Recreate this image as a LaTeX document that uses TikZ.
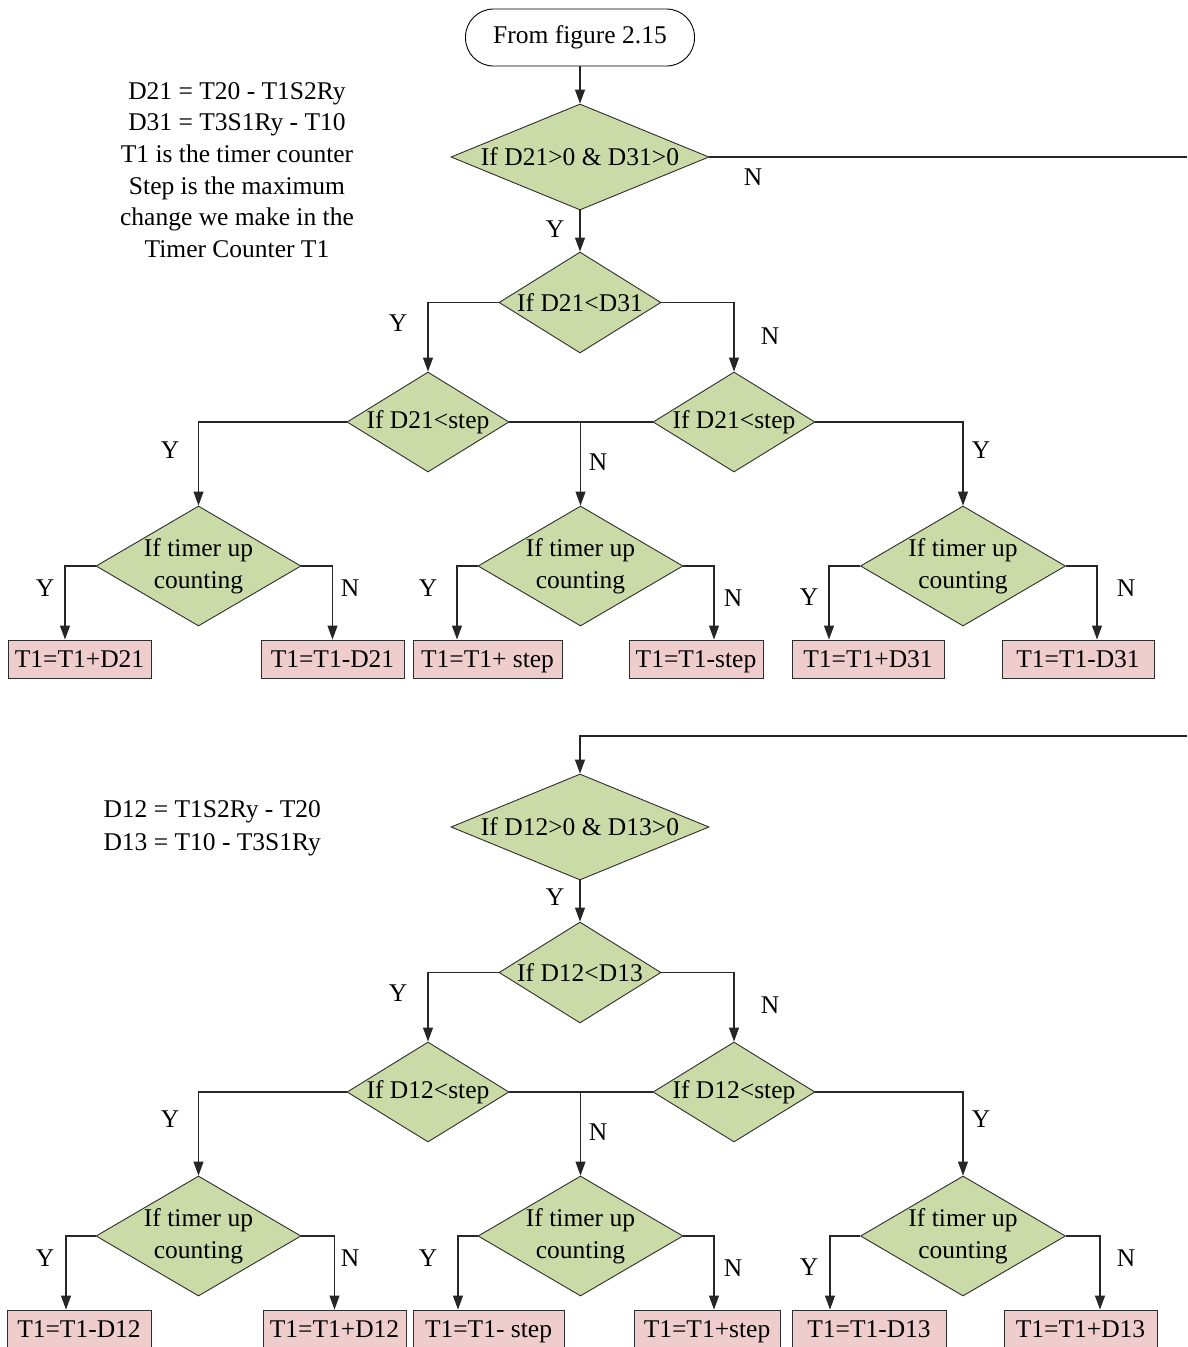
\documentclass[tikz,border=0pt]{standalone}
\usepackage{fontspec}
\setmainfont{Liberation Serif}
\usetikzlibrary{shapes.geometric,arrows.meta}

\definecolor{decfill}{RGB}{203,219,168}
\definecolor{actfill}{RGB}{239,205,205}
\definecolor{edgecol}{RGB}{45,45,45}

\tikzset{
  every node/.style={font=\fontsize{25.5}{31.6}\selectfont},
  dec/.style={diamond, draw=edgecol, fill=decfill, line width=0.9pt, inner sep=0pt},
  act/.style={rectangle, draw=edgecol, fill=actfill, line width=0.9pt,
              minimum height=38pt, inner sep=0pt, text height=16.9pt, text depth=0pt},
  term/.style={rectangle, rounded corners=28pt, draw=black, line width=0.9pt,
               minimum width=229pt, minimum height=57pt, inner sep=0pt},
  flow/.style={draw=black!85, line width=1.1pt, -{Triangle[length=14pt,width=10pt]}},
  link/.style={draw=black!85, line width=1.1pt},
  yn/.style={inner sep=0pt},
}

\begin{document}
\begin{tikzpicture}[x=1pt,y=-1pt]
\useasboundingbox (0,0) rectangle (1187,1347);

% ---------------- upper chart ----------------
\node[term] (start) at (580,37.5) {From figure 2.15};

\node[align=center] (notesA) at (237,170)
  {D21 = T20 - T1S2Ry\\D31 = T3S1Ry - T10\\T1 is the timer counter\\Step is the maximum\\change we make in the\\Timer Counter T1};

\node[dec, minimum width=258pt, minimum height=106pt,
      label={center:If D21>0 \& D31>0}] (a1) at (580,157) {};
\node[dec, minimum width=162pt, minimum height=101pt,
      label={center:If D21<D31}] (a2) at (580,302.5) {};
\node[dec, minimum width=162pt, minimum height=100pt,
      label={center:If D21<step}] (a3L) at (428,422) {};
\node[dec, minimum width=162pt, minimum height=100pt,
      label={center:If D21<step}] (a3R) at (734,422) {};
\node[dec, minimum width=205pt, minimum height=120pt,
      label={[align=center]center:If timer up\\counting}] (a4L) at (198.5,566) {};
\node[dec, minimum width=205pt, minimum height=120pt,
      label={[align=center]center:If timer up\\counting}] (a4M) at (580.5,566) {};
\node[dec, minimum width=205pt, minimum height=120pt,
      label={[align=center]center:If timer up\\counting}] (a4R) at (963,566) {};

\node[act, minimum width=143pt] (ab1) at (79.5,659) {T1=T1+D21};
\node[act, minimum width=143pt] (ab2) at (332.5,659) {T1=T1-D21};
\node[act, minimum width=149pt] (ab3) at (487.5,659) {T1=T1+ step};
\node[act, minimum width=134pt] (ab4) at (696,659) {T1=T1-step};
\node[act, minimum width=152pt] (ab5) at (868,659) {T1=T1+D31};
\node[act, minimum width=152pt] (ab6) at (1078,659) {T1=T1-D31};

\coordinate (aexit) at (1187,157);

\draw[flow] (start.south) -- (a1.north);
\draw[link] (a1.east) -- (aexit);
\draw[flow] (a1.south) -- (a2.north);
\draw[flow] (a2.west) -| (a3L.north);
\draw[flow] (a2.east) -| (a3R.north);
\draw[flow] (a3L.west) -| (a4L.north);
\draw[flow] (a3R.east) -| (a4R.north);
\draw[link] (a3L.east) -- (a3R.west);
\draw[flow] (a3L.east -| a4M.north) -- (a4M.north);
\draw[flow] (a4L.west) -| ([xshift=-14.5pt]ab1.north);
\draw[flow] (a4L.east) -| (ab2.north);
\draw[flow] (a4M.west) -| ([xshift=-30.5pt]ab3.north);
\draw[flow] (a4M.east) -| ([xshift=18pt]ab4.north);
\draw[flow] (a4R.west) -| ([xshift=-39pt]ab5.north);
\draw[flow] (a4R.east) -| ([xshift=19pt]ab6.north);

\node[yn] (an1) at (753,177) {N};
\node[yn] (ay1) at (555,229) {Y};
\node[yn] (ay2) at (398,323) {Y};
\node[yn] (an2) at (770,336) {N};
\node[yn] (ay3) at (170,450) {Y};
\node[yn] (an3) at (598,462) {N};
\node[yn] (ay4) at (981,450) {Y};
\node[yn] (ay5) at (45,588) {Y};
\node[yn] (an5) at (350,588) {N};
\node[yn] (ay6) at (428,588) {Y};
\node[yn] (an6) at (733,598) {N};
\node[yn] (ay7) at (809,597) {Y};
\node[yn] (an7) at (1126,588) {N};

% ---------------- lower chart ----------------
\node[align=left, anchor=west, font=\fontsize{25.5}{33}\selectfont] (notesB) at (100,828)
  {D12 = T1S2Ry - T20\\D13 = T10 - T3S1Ry};

\node[dec, minimum width=258pt, minimum height=106pt,
      label={center:If D12>0 \& D13>0}] (b1) at (580,827) {};
\node[dec, minimum width=162pt, minimum height=101pt,
      label={center:If D12<D13}] (b2) at (580,972.5) {};
\node[dec, minimum width=162pt, minimum height=100pt,
      label={center:If D12<step}] (b3L) at (428,1092) {};
\node[dec, minimum width=162pt, minimum height=100pt,
      label={center:If D12<step}] (b3R) at (734,1092) {};
\node[dec, minimum width=205pt, minimum height=120pt,
      label={[align=center]center:If timer up\\counting}] (b4L) at (198.5,1236) {};
\node[dec, minimum width=205pt, minimum height=120pt,
      label={[align=center]center:If timer up\\counting}] (b4M) at (580.5,1236) {};
\node[dec, minimum width=205pt, minimum height=120pt,
      label={[align=center]center:If timer up\\counting}] (b4R) at (963,1236) {};

\node[act, minimum width=144pt] (bb1) at (79,1329) {T1=T1-D12};
\node[act, minimum width=143pt] (bb2) at (334.5,1329) {T1=T1+D12};
\node[act, minimum width=151pt] (bb3) at (488.5,1329) {T1=T1- step};
\node[act, minimum width=146pt] (bb4) at (707,1329) {T1=T1+step};
\node[act, minimum width=154pt] (bb5) at (869,1329) {T1=T1-D13};
\node[act, minimum width=153pt] (bb6) at (1080.5,1329) {T1=T1+D13};

\coordinate (bentry) at (1187,736);

\draw[flow] (bentry) -| (b1.north);
\draw[flow] (b1.south) -- (b2.north);
\draw[flow] (b2.west) -| (b3L.north);
\draw[flow] (b2.east) -| (b3R.north);
\draw[flow] (b3L.west) -| (b4L.north);
\draw[flow] (b3R.east) -| (b4R.north);
\draw[link] (b3L.east) -- (b3R.west);
\draw[flow] (b3L.east -| b4M.north) -- (b4M.north);
\draw[flow] (b4L.west) -| ([xshift=-13pt]bb1.north);
\draw[flow] (b4L.east) -| (bb2.north);
\draw[flow] (b4M.west) -| ([xshift=-30.5pt]bb3.north);
\draw[flow] (b4M.east) -| ([xshift=7pt]bb4.north);
\draw[flow] (b4R.west) -| ([xshift=-39pt]bb5.north);
\draw[flow] (b4R.east) -| ([xshift=19.5pt]bb6.north);

\node[yn] (by1) at (555,897) {Y};
\node[yn] (by2) at (398,993) {Y};
\node[yn] (bn2) at (770,1005) {N};
\node[yn] (by3) at (170,1119) {Y};
\node[yn] (bn3) at (598,1132) {N};
\node[yn] (by4) at (981,1119) {Y};
\node[yn] (by5) at (45,1258) {Y};
\node[yn] (bn5) at (350,1258) {N};
\node[yn] (by6) at (428,1258) {Y};
\node[yn] (bn6) at (733,1268) {N};
\node[yn] (by7) at (809,1267) {Y};
\node[yn] (bn7) at (1126,1258) {N};
\end{tikzpicture}
\end{document}
